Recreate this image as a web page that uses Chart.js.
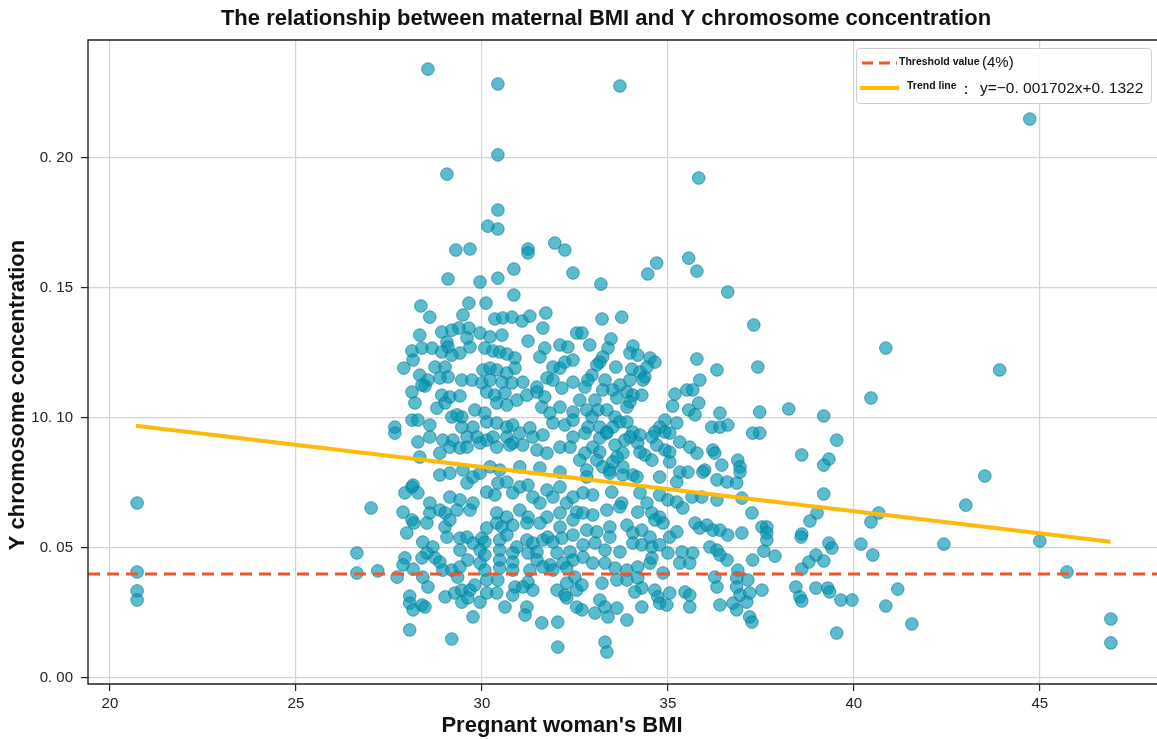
<!doctype html>
<html lang="en">
<head>
<meta charset="utf-8">
<title>Maternal BMI vs Y chromosome concentration</title>
<script src="https://cdn.jsdelivr.net/npm/chart.js@4.4.1/dist/chart.umd.min.js"></script>
<style>
  * { margin: 0; padding: 0; }
  body { background: #fff; width: 1157px; height: 739px; overflow: hidden; }
  #chart { display: block; }
</style>
</head>
<body>
<canvas id="chart" width="1157" height="739"></canvas>
<script>
// [BMI, Y concentration]
const samples = [
  [28.55,0.2342],[30.43,0.2285],[33.71,0.2277],[44.73,0.2150],[30.43,0.2012],[35.83,0.1923],[29.06,0.1938],
  [30.43,0.1800],[30.43,0.1727],[30.16,0.1738],[31.24,0.1650],[31.24,0.1635],[31.96,0.1673],[32.23,0.1646],
  [29.30,0.1646],[29.68,0.1650],[35.56,0.1615],[35.78,0.1565],[34.70,0.1596],[34.46,0.1554],[32.45,0.1558],
  [30.86,0.1573],[33.20,0.1515],[29.09,0.1535],[29.95,0.1523],[30.43,0.1538],[36.61,0.1485],[30.86,0.1473],
  [29.65,0.1442],[30.11,0.1442],[28.36,0.1431],[37.31,0.1358],[40.86,0.1269],[43.92,0.1185],[38.25,0.1035],
  [37.47,0.1023],[39.19,0.1008],[40.46,0.1077],[39.54,0.0915],[39.33,0.0842],[38.60,0.0858],[37.47,0.0942],
  [39.19,0.0819],[43.52,0.0777],[43.01,0.0665],[40.67,0.0635],[40.46,0.0600],[39.19,0.0708],[39.01,0.0635],
  [38.82,0.0604],[40.19,0.0515],[40.51,0.0473],[42.42,0.0515],[45.00,0.0527],[45.73,0.0408],[46.91,0.0227],
  [46.91,0.0135],[40.86,0.0277],[41.18,0.0342],[41.56,0.0208],[39.95,0.0300],[39.65,0.0300],[39.54,0.0173],
  [39.30,0.0346],[39.35,0.0331],[38.98,0.0346],[38.44,0.0350],[38.55,0.0312],[38.60,0.0296],[37.53,0.0338],
  [38.60,0.0419],[38.98,0.0473],[38.79,0.0446],[39.19,0.0450],[39.33,0.0519],[39.41,0.0500],[38.60,0.0554],
  [38.58,0.0542],[37.53,0.0581],[37.66,0.0581],[37.66,0.0558],[37.66,0.0531],[37.58,0.0488],[37.88,0.0469],
  [20.73,0.0673],[20.73,0.0408],[20.73,0.0335],[20.73,0.0300],[26.64,0.0481],[26.64,0.0404],[27.20,0.0412],
  [27.02,0.0654],[27.66,0.0965],[27.66,0.0942],[27.72,0.0388],
  [28.60,0.1388],[29.49,0.1396],[31.72,0.1404],[30.35,0.1381],[30.56,0.1385],[30.81,0.1388],[31.08,0.1373],
  [31.29,0.1392],[29.65,0.1346],[29.38,0.1346],[29.19,0.1338],[28.92,0.1331],[31.64,0.1346],[28.33,0.1319],
  [29.95,0.1327],[30.22,0.1312],[30.54,0.1319],[31.24,0.1296],[31.69,0.1269],[31.56,0.1235],[32.10,0.1281],
  [32.31,0.1273],[32.55,0.1327],[29.06,0.1292],[29.09,0.1273],[29.41,0.1250],[29.68,0.1273],[29.60,0.1308],
  [28.12,0.1258],[28.39,0.1269],[28.66,0.1269],[28.92,0.1254],[29.19,0.1242],[28.15,0.1223],[30.08,0.1269],
  [30.30,0.1258],[30.48,0.1254],[30.67,0.1246],[30.89,0.1231],[27.90,0.1192],[28.74,0.1196],[29.01,0.1196],
  [29.09,0.1158],[28.87,0.1154],[30.03,0.1185],[30.22,0.1192],[30.40,0.1185],[30.67,0.1173],[30.89,0.1192],
  [32.10,0.1192],[31.91,0.1196],[32.23,0.1215],[32.45,0.1223],[28.33,0.1165],[28.55,0.1146],[28.47,0.1123],
  [29.46,0.1146],[29.73,0.1146],[30.00,0.1135],[30.22,0.1146],[30.54,0.1138],[30.81,0.1135],[31.10,0.1138],
  [31.48,0.1119],[31.75,0.1154],[31.91,0.1146],[32.15,0.1115],[32.45,0.1138],[28.12,0.1100],[28.20,0.1058],
  [28.39,0.1127],[28.92,0.1088],[29.14,0.1081],[29.41,0.1085],[29.01,0.1058],[28.79,0.1038],[30.13,0.1100],
  [30.35,0.1088],[30.62,0.1096],[30.40,0.1058],[30.67,0.1050],[30.94,0.1069],[31.21,0.1088],[31.48,0.1100],
  [31.69,0.1081],[31.61,0.1042],[31.83,0.1019],[32.10,0.1042],[32.45,0.1023],[29.81,0.1031],[30.08,0.1019],
  [29.46,0.1004],[29.19,0.1004],[29.33,0.1012],[28.12,0.0992],[28.28,0.0992],[28.60,0.0973],[28.28,0.0908],
  [28.60,0.0927],[29.76,0.0965],[29.46,0.0965],[30.13,0.0985],[30.40,0.0981],[30.67,0.0965],[30.83,0.0973],
  [31.02,0.0942],[31.29,0.0962],[31.37,0.0927],[31.64,0.0935],[31.91,0.0981],[32.23,0.0973],[32.45,0.0992],
  [32.45,0.0927],[28.95,0.0915],[29.22,0.0915],[29.60,0.0927],[29.87,0.0927],[30.13,0.0915],[30.30,0.0927],
  [30.67,0.0927],[30.83,0.0904],[28.33,0.0850],[28.87,0.0865],[29.14,0.0888],[29.41,0.0885],[29.60,0.0888],
  [29.95,0.0904],[30.40,0.0888],[30.75,0.0896],[31.10,0.0896],[31.48,0.0877],[31.75,0.0865],[32.10,0.0888],
  [32.37,0.0888],[28.87,0.0781],[29.14,0.0788],[29.49,0.0800],[30.22,0.0812],[30.48,0.0800],[31.02,0.0812],
  [31.56,0.0808],[32.10,0.0792],
  [33.23,0.1381],[33.76,0.1388],[32.69,0.1327],[32.90,0.1281],[33.47,0.1304],[33.39,0.1269],[34.06,0.1277],
  [33.98,0.1250],[34.19,0.1242],[34.52,0.1231],[34.65,0.1215],[33.25,0.1235],[33.17,0.1215],[33.09,0.1204],
  [33.60,0.1196],[34.03,0.1188],[34.25,0.1177],[34.38,0.1158],[34.44,0.1196],[35.78,0.1227],[36.32,0.1185],
  [37.42,0.1196],[32.96,0.1165],[32.85,0.1146],[32.77,0.1119],[33.31,0.1146],[33.71,0.1127],[33.98,0.1146],
  [34.33,0.1146],[33.25,0.1108],[33.52,0.1108],[33.90,0.1100],[34.06,0.1088],[34.30,0.1088],[33.98,0.1062],
  [33.63,0.1077],[33.90,0.1042],[35.86,0.1146],[35.51,0.1108],[35.67,0.1108],[35.19,0.1092],[35.13,0.1046],
  [35.56,0.1031],[35.83,0.1058],[35.73,0.1012],[36.40,0.1019],[32.63,0.1069],[33.04,0.1069],[32.82,0.1031],
  [33.12,0.1031],[33.36,0.1031],[33.58,0.1004],[33.71,0.0985],[33.90,0.0985],[32.96,0.1004],[32.85,0.0965],
  [33.17,0.0965],[33.36,0.0946],[33.52,0.0965],[34.92,0.0992],[34.78,0.0965],[34.65,0.0946],[34.57,0.0927],
  [34.92,0.0946],[35.24,0.0981],[35.05,0.0942],[36.18,0.0965],[36.40,0.0965],[36.61,0.0973],[37.28,0.0942],
  [34.06,0.0946],[34.25,0.0935],[34.19,0.0904],[33.98,0.0927],[33.84,0.0915],[33.58,0.0896],[33.17,0.0923],
  [33.36,0.0942],[32.98,0.0888],[32.77,0.0942],[35.32,0.0908],[35.59,0.0888],[35.78,0.0865],[36.21,0.0877],
  [36.26,0.0865],[34.92,0.0877],[35.05,0.0869],[34.70,0.0896],[34.38,0.0858],[34.25,0.0869],[34.57,0.0838],
  [33.79,0.0865],[33.63,0.0850],[33.17,0.0869],[33.09,0.0838],[32.77,0.0865],[32.63,0.0838],[35.05,0.0831],
  [35.32,0.0792],[35.54,0.0792],[35.99,0.0800],[36.45,0.0819],[36.88,0.0838],[36.94,0.0812],[34.78,0.0773],
  [34.06,0.0781],[33.79,0.0781],[33.44,0.0800],[33.25,0.0812],[32.82,0.0800],[33.79,0.0812],[33.52,0.0831],
  [27.93,0.0712],[28.12,0.0735],[28.15,0.0742],[28.28,0.0712],[28.60,0.0673],[29.14,0.0696],[29.41,0.0685],
  [29.60,0.0750],[29.76,0.0773],[29.76,0.0673],[29.95,0.0788],[30.13,0.0715],[30.35,0.0704],[30.43,0.0750],
  [30.67,0.0754],[30.83,0.0712],[31.02,0.0735],[31.24,0.0742],[31.37,0.0696],[31.56,0.0673],[31.75,0.0723],
  [31.91,0.0696],[32.10,0.0735],[32.28,0.0673],[32.45,0.0696],[32.55,0.0638],[27.88,0.0638],[28.12,0.0608],
  [28.60,0.0635],[28.87,0.0646],[29.01,0.0635],[29.33,0.0646],[29.68,0.0646],[28.52,0.0596],[29.01,0.0581],
  [29.14,0.0608],[30.40,0.0635],[30.67,0.0619],[31.02,0.0646],[31.24,0.0619],[31.75,0.0619],[32.10,0.0635],
  [31.56,0.0596],[32.10,0.0581],[32.45,0.0608],[27.98,0.0558],[28.41,0.0523],[28.68,0.0504],[29.06,0.0542],
  [29.41,0.0538],[29.60,0.0542],[29.76,0.0519],[30.00,0.0538],[30.13,0.0577],[30.08,0.0523],[30.40,0.0596],
  [30.54,0.0581],[30.48,0.0531],[30.67,0.0550],[30.83,0.0588],[30.94,0.0504],[31.21,0.0596],[31.21,0.0531],
  [31.37,0.0519],[31.64,0.0531],[31.77,0.0542],[32.15,0.0538],[32.45,0.0550],[31.91,0.0523],[28.52,0.0481],
  [28.74,0.0462],[28.87,0.0446],[29.41,0.0492],[29.62,0.0454],[29.95,0.0492],[30.08,0.0473],[29.95,0.0442],
  [30.48,0.0492],[30.48,0.0454],[30.83,0.0481],[30.83,0.0446],[31.24,0.0481],[31.48,0.0485],[31.48,0.0454],
  [32.02,0.0481],[32.37,0.0485],[32.45,0.0454],[32.18,0.0442],[31.83,0.0435],[27.93,0.0462],[28.39,0.0462],
  [27.88,0.0435],[28.15,0.0419],[28.41,0.0388],[28.55,0.0350],[28.95,0.0415],[29.19,0.0415],[29.35,0.0388],
  [29.41,0.0427],[30.08,0.0415],[30.48,0.0423],[30.13,0.0377],[30.43,0.0377],[30.83,0.0415],[31.29,0.0415],
  [31.64,0.0427],[31.91,0.0415],[32.28,0.0423],[32.50,0.0388],[32.28,0.0365],[29.01,0.0312],[29.27,0.0327],
  [29.46,0.0338],[29.68,0.0338],[29.81,0.0358],[29.46,0.0292],[29.62,0.0308],[29.95,0.0292],[30.13,0.0327],
  [30.40,0.0327],[30.89,0.0350],[30.83,0.0319],[31.24,0.0369],[31.37,0.0338],[31.10,0.0350],[32.02,0.0338],
  [32.23,0.0319],[32.28,0.0308],[32.55,0.0338],[32.55,0.0273],[28.06,0.0315],[28.06,0.0288],[28.15,0.0262],
  [28.39,0.0281],[28.47,0.0273],[29.76,0.0235],[30.62,0.0273],[31.21,0.0273],[31.16,0.0242],[31.61,0.0212],
  [32.04,0.0215],[28.06,0.0185],[29.19,0.0150],[32.04,0.0119],[28.17,0.0596],
  [32.82,0.0773],[33.44,0.0788],[34.17,0.0773],[35.24,0.0754],[35.94,0.0792],[36.32,0.0762],[36.59,0.0754],
  [36.85,0.0750],[36.94,0.0792],[32.72,0.0712],[32.98,0.0704],[33.49,0.0715],[33.76,0.0673],[34.25,0.0712],
  [34.44,0.0673],[34.78,0.0704],[35.00,0.0685],[35.24,0.0677],[35.40,0.0654],[35.65,0.0696],[35.91,0.0696],
  [36.32,0.0685],[36.99,0.0692],[37.26,0.0635],[32.72,0.0635],[32.98,0.0627],[33.36,0.0646],[33.71,0.0658],
  [34.19,0.0638],[34.57,0.0635],[34.78,0.0619],[34.87,0.0596],[34.65,0.0608],[32.82,0.0569],[33.09,0.0562],
  [33.44,0.0581],[33.44,0.0542],[33.90,0.0588],[34.06,0.0558],[34.30,0.0569],[34.52,0.0542],[35.05,0.0542],
  [35.24,0.0562],[35.73,0.0596],[35.86,0.0577],[36.05,0.0588],[36.21,0.0569],[36.40,0.0569],[36.61,0.0550],
  [36.99,0.0558],[32.72,0.0512],[33.04,0.0519],[33.31,0.0492],[33.71,0.0485],[34.06,0.0519],[34.30,0.0512],
  [34.57,0.0504],[34.78,0.0512],[35.00,0.0481],[35.38,0.0485],[35.67,0.0481],[36.13,0.0504],[36.32,0.0492],
  [36.40,0.0473],[36.59,0.0454],[37.28,0.0454],[32.72,0.0465],[32.98,0.0442],[33.31,0.0442],[33.58,0.0423],
  [33.90,0.0415],[34.19,0.0427],[34.52,0.0442],[34.57,0.0462],[34.87,0.0404],[35.32,0.0442],[35.59,0.0442],
  [36.26,0.0388],[36.88,0.0415],[37.15,0.0377],[36.85,0.0385],[32.69,0.0358],[33.23,0.0365],[33.63,0.0377],
  [33.90,0.0377],[34.19,0.0385],[34.30,0.0346],[34.11,0.0331],[34.65,0.0338],[34.73,0.0312],[35.05,0.0327],
  [35.46,0.0331],[35.59,0.0319],[36.32,0.0350],[36.85,0.0350],[36.94,0.0319],[37.20,0.0327],[32.69,0.0262],
  [33.04,0.0250],[33.17,0.0300],[33.31,0.0273],[33.39,0.0235],[33.63,0.0269],[33.90,0.0223],[34.30,0.0273],
  [34.78,0.0288],[34.97,0.0281],[35.59,0.0273],[36.40,0.0281],[36.75,0.0288],[36.85,0.0262],[37.12,0.0292],
  [37.20,0.0235],[37.26,0.0215],[33.31,0.0138],[33.36,0.0100]
];

const thresholdValue = 0.04;
const trendX = [20.7, 46.9];
const trendY = [0.0970, 0.0524];
const xRange = [19.41, 48.15];
const yRange = [-0.0023, 0.2454];
const xTickValues = [20, 25, 30, 35, 40, 45];
const yTickValues = [0, 0.05, 0.10, 0.15, 0.20];
const yTickLabels = ['0. 00', '0. 05', '10. 10', '0. 15', '0. 20'];

const titleText = 'The relationship between maternal BMI and Y chromosome concentration';
const xTitle = "Pregnant woman's BMI";
const yTitle = 'Y chromosome concentration';

const SANS = '"Liberation Sans", Arial, sans-serif';

// title, axis titles, frame and legend box
const decor = {
  id: 'decor',
  afterDraw(chart) {
    const { ctx, chartArea: a } = chart;
    ctx.save();
    ctx.strokeStyle = '#222';
    ctx.lineWidth = 1.4;
    ctx.beginPath();
    ctx.moveTo(a.right, a.top); ctx.lineTo(a.left, a.top);
    ctx.lineTo(a.left, a.bottom); ctx.lineTo(a.right, a.bottom);
    ctx.stroke();

    ctx.fillStyle = '#111';
    ctx.textAlign = 'center';
    ctx.textBaseline = 'middle';
    ctx.font = 'bold 22px ' + SANS;
    ctx.fillText(titleText, 606, 19);
    ctx.fillText(xTitle, 562, 726);
    ctx.save();
    ctx.translate(18, 395);
    ctx.rotate(-Math.PI / 2);
    ctx.fillText(yTitle, 0, 0);
    ctx.restore();

    // legend
    ctx.fillStyle = 'rgba(255,255,255,0.9)';
    ctx.strokeStyle = '#cfcfcf';
    ctx.lineWidth = 1;
    ctx.beginPath();
    ctx.roundRect(856.5, 48.5, 295, 55, 3);
    ctx.fill(); ctx.stroke();

    ctx.lineWidth = 3;
    ctx.strokeStyle = '#F0552B';
    ctx.setLineDash([11, 6]);
    ctx.beginPath(); ctx.moveTo(862, 63); ctx.lineTo(897, 63); ctx.stroke();
    ctx.setLineDash([]);
    ctx.lineWidth = 4;
    ctx.strokeStyle = '#FFBA08';
    ctx.beginPath(); ctx.moveTo(860, 88); ctx.lineTo(899, 88); ctx.stroke();

    ctx.fillStyle = '#111';
    ctx.textAlign = 'left';
    ctx.font = 'bold 10.5px ' + SANS;
    ctx.fillText('Threshold value', 899, 62);
    ctx.fillText('Trend line', 907, 86);
    ctx.font = '15px ' + SANS;
    ctx.fillText('(4%)', 982, 63);
    ctx.font = '15.5px ' + SANS;
    ctx.fillText('：', 958, 90);
    ctx.fillText('y=−0. 001702x+0. 1322', 980, 89);
    ctx.restore();
  }
};

const points = samples.map(([x, y]) => ({ x, y }));

new Chart(document.getElementById('chart'), {
  type: 'scatter',
  data: {
    datasets: [
      {
        type: 'line',
        label: 'Threshold value (4%)',
        data: xRange.map(x => ({ x, y: thresholdValue })),
        borderColor: '#F0552B',
        borderWidth: 3,
        borderDash: [12, 7],
        pointRadius: 0,
        order: 0
      },
      {
        type: 'line',
        label: 'Trend line',
        data: trendX.map((x, i) => ({ x, y: trendY[i] })),
        borderColor: '#FFBA08',
        borderWidth: 4,
        pointRadius: 0,
        order: 1
      },
      {
        label: 'Samples',
        data: points,
        backgroundColor: 'rgba(0,150,180,0.64)',
        borderColor: 'rgba(0,112,138,0.75)',
        borderWidth: 0.8,
        pointRadius: 6.3,
        order: 2
      }
    ]
  },
  options: {
    responsive: false,
    animation: false,
    devicePixelRatio: 1,
    layout: { autoPadding: false, padding: { top: 40, right: 0, left: 0, bottom: 0 } },
    plugins: { legend: { display: false }, title: { display: false }, tooltip: { enabled: false } },
    scales: {
      x: {
        type: 'linear',
        min: xRange[0],
        max: xRange[1],
        afterFit: s => { s.height = 55; s.paddingLeft = 0; s.paddingRight = 0; },
        afterBuildTicks: s => { s.ticks = xTickValues.map(v => ({ value: v })); },
        grid: { color: '#d4d4d4', lineWidth: 1.2, tickLength: 7, tickColor: '#222' },
        border: { display: false },
        ticks: { color: '#222', padding: 4, font: { size: 15, family: SANS }, maxRotation: 0, callback: v => v }
      },
      y: {
        min: yRange[0],
        max: yRange[1],
        afterFit: s => { s.width = 88; s.paddingTop = 0; s.paddingBottom = 0; },
        afterBuildTicks: s => { s.ticks = yTickValues.map(v => ({ value: v })); },
        grid: { color: '#d4d4d4', lineWidth: 1.2, tickLength: 7, tickColor: '#222' },
        border: { display: false },
        ticks: { color: '#222', padding: 8, font: { size: 15, family: SANS }, callback: (v, i) => yTickLabels[i] }
      }
    }
  },
  plugins: [decor]
});
</script>
</body>
</html>
